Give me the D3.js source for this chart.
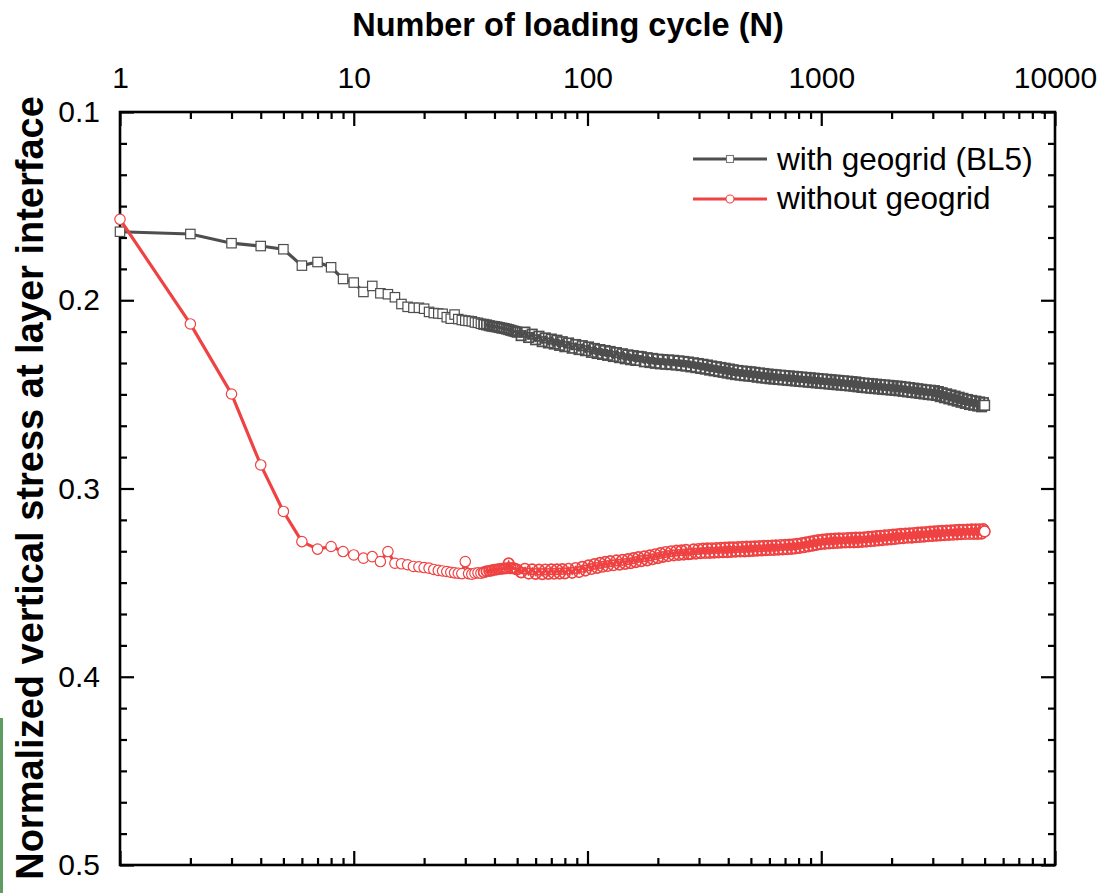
<!DOCTYPE html>
<html>
<head>
<meta charset="utf-8">
<script src="https://cdn.jsdelivr.net/npm/d3@7/dist/d3.min.js"></script>
<style>
  html, body { margin: 0; padding: 0; background: #fff; }
  svg { display: block; }
  text { font-family: "Liberation Sans", Arial, sans-serif; fill: #000; }
</style>
</head>
<body>
<svg id="chart" width="1102" height="893"></svg>
<script>
// ---------------- DATA ----------------
const xTitle = "Number of loading cycle (N)";
const yTitle = "Normalized vertical stress at layer interface";
const seriesNames = ["with geogrid (BL5)", "without geogrid"];

const xMajorTicks = [1, 10, 100, 1000, 10000];
const xTickLabels = ["1", "10", "100", "1000", "10000"];
const yMajorTicks = [0.1, 0.2, 0.3, 0.4, 0.5];
const yTickLabels = ["0.1", "0.2", "0.3", "0.4", "0.5"];

// loading cycles at which both series were recorded
const cycles = [
  1,2,3,4,5,6,7,8,9,10,
  11,12,13,14,15,16,17,18,19,20,
  21,22,23,24,25,26,27,28,29,30,
  31,32,33,34,35,36,37,38,39,40,
  41,42,43,44,45,46,47,48,49,50,
  52,54,56,58,60,62,64,66,68,70,72,74,76,78,80,
  83,86,89,92,95,98,101,104,107,110,113,116,119,122,125,
  129,133,137,141,145,149,153,157,161,165,
  170,175,180,185,190,195,200,205,210,
  216,222,228,234,240,246,252,258,264,270,
  277,284,291,298,305,312,319,326,333,340,
  348,356,364,372,380,388,396,404,412,420,
  430,440,450,460,470,480,490,500,510,520,
  532,544,556,568,580,592,604,616,628,640,
  655,670,685,700,715,730,745,760,775,790,
  808,826,844,862,880,898,916,934,952,970,
  992,1014,1036,1058,1080,1102,1124,1146,1168,1190,
  1217,1244,1271,1298,1325,1352,1379,1406,1433,1460,
  1493,1526,1559,1592,1625,1658,1691,1724,1757,1790,
  1830,1870,1910,1950,1990,2030,2070,2110,2150,2190,
  2240,2290,2340,2390,2440,2490,2540,2590,2640,2690,
  2750,2810,2870,2930,2990,3050,3110,3170,3230,3290,
  3365,3440,3515,3590,3665,3740,3815,3890,3965,4040,
  4130,4220,4310,4400,4490,4580,4670,4760,4850,4940,5000
];

const withGeogrid = [
  0.1636,0.1648,0.1697,0.1712,0.1729,0.1816,0.1797,0.1825,0.1887,0.1906,
  0.1956,0.1924,0.1963,0.1968,0.1984,0.2020,0.2035,0.2040,0.2040,0.2045,
  0.2062,0.2068,0.2070,0.2072,0.2090,0.2098,0.2076,0.2100,0.2105,0.2108,
  0.2110,0.2112,0.2118,0.2120,0.2125,0.2128,0.2131,0.2135,0.2138,0.2140,
  0.2142,0.2145,0.2148,0.2150,0.2153,0.2156,0.2160,0.2163,0.2166,0.2170,
  0.2188,0.2169,0.2198,0.2180,0.2210,0.2191,0.2220,0.2200,0.2227,0.2206,0.2233,0.2212,0.2240,0.2220,0.2247,
  0.2227,0.2255,0.2235,0.2262,0.2241,0.2268,0.2248,0.2277,0.2256,0.2283,0.2262,0.2288,0.2267,0.2293,0.2272,
  0.2299,0.2278,0.2305,0.2284,0.2311,0.2290,0.2316,0.2294,0.2320,0.2298,
  0.2300,0.2327,0.2305,0.2331,0.2309,0.2335,0.2313,0.2338,0.2315,
  0.2340,0.2317,0.2342,0.2319,0.2344,0.2322,0.2347,0.2325,0.2350,0.2328,
  0.2354,0.2332,0.2358,0.2336,0.2362,0.2340,0.2366,0.2344,0.2371,0.2349,
  0.2375,0.2353,0.2379,0.2357,0.2383,0.2361,0.2387,0.2365,0.2391,0.2369,
  0.2395,0.2373,0.2398,0.2376,0.2401,0.2378,0.2403,0.2380,0.2405,0.2383,
  0.2409,0.2386,0.2412,0.2389,0.2414,0.2392,0.2417,0.2394,0.2419,0.2396,
  0.2421,0.2398,0.2423,0.2400,0.2425,0.2402,0.2427,0.2404,0.2429,0.2406,
  0.2431,0.2408,0.2433,0.2410,0.2435,0.2412,0.2437,0.2414,0.2439,0.2416,
  0.2441,0.2418,0.2443,0.2420,0.2445,0.2422,0.2447,0.2424,0.2449,0.2426,
  0.2451,0.2428,0.2453,0.2430,0.2455,0.2432,0.2457,0.2434,0.2460,0.2438,
  0.2463,0.2440,0.2465,0.2442,0.2467,0.2444,0.2469,0.2446,0.2471,0.2448,
  0.2473,0.2450,0.2475,0.2452,0.2477,0.2454,0.2479,0.2456,0.2481,0.2458,
  0.2484,0.2461,0.2487,0.2464,0.2490,0.2467,0.2492,0.2470,0.2495,0.2473,
  0.2498,0.2476,0.2501,0.2478,0.2503,0.2480,0.2506,0.2485,0.2512,0.2491,
  0.2518,0.2497,0.2524,0.2503,0.2530,0.2509,0.2536,0.2515,0.2542,0.2521,
  0.2548,0.2527,0.2554,0.2532,0.2558,0.2536,0.2562,0.2540,0.2566,0.2544,0.2558
];

const withoutGeogrid = [
  0.1570,0.2126,0.2498,0.2875,0.3122,0.3282,0.3322,0.3308,0.3335,0.3353,
  0.3370,0.3362,0.3388,0.3335,0.3397,0.3400,0.3405,0.3414,0.3416,0.3420,
  0.3423,0.3430,0.3435,0.3438,0.3441,0.3445,0.3448,0.3450,0.3452,0.3388,
  0.3452,0.3455,0.3450,0.3448,0.3450,0.3445,0.3440,0.3438,0.3435,0.3432,
  0.3430,0.3428,0.3426,0.3425,0.3424,0.3397,0.3424,0.3423,0.3426,0.3430,
  0.3446,0.3426,0.3452,0.3429,0.3454,0.3431,0.3455,0.3430,0.3454,0.3429,0.3453,0.3429,0.3452,0.3428,0.3451,
  0.3426,0.3448,0.3422,0.3444,0.3416,0.3436,0.3408,0.3428,0.3401,0.3422,0.3395,0.3416,0.3390,0.3412,0.3386,
  0.3408,0.3382,0.3405,0.3379,0.3401,0.3375,0.3397,0.3370,0.3391,0.3364,
  0.3386,0.3360,0.3382,0.3355,0.3376,0.3349,0.3370,0.3343,0.3364,
  0.3337,0.3359,0.3333,0.3355,0.3330,0.3353,0.3328,0.3351,0.3326,0.3349,
  0.3348,0.3323,0.3346,0.3321,0.3344,0.3319,0.3343,0.3318,0.3342,0.3317,
  0.3341,0.3316,0.3340,0.3315,0.3339,0.3314,0.3338,0.3313,0.3337,0.3312,
  0.3336,0.3311,0.3335,0.3310,0.3334,0.3309,0.3333,0.3308,0.3332,0.3307,
  0.3330,0.3306,0.3329,0.3305,0.3328,0.3304,0.3327,0.3303,0.3326,0.3302,
  0.3325,0.3300,0.3324,0.3299,0.3322,0.3298,0.3321,0.3296,0.3319,0.3294,
  0.3316,0.3290,0.3312,0.3286,0.3308,0.3282,0.3304,0.3278,0.3300,0.3274,
  0.3296,0.3271,0.3294,0.3269,0.3292,0.3267,0.3290,0.3266,0.3289,0.3265,
  0.3288,0.3264,0.3287,0.3263,0.3286,0.3262,0.3286,0.3261,0.3285,0.3261,
  0.3284,0.3259,0.3282,0.3257,0.3280,0.3255,0.3278,0.3253,0.3276,0.3251,
  0.3274,0.3249,0.3272,0.3247,0.3270,0.3245,0.3268,0.3243,0.3266,0.3241,
  0.3264,0.3239,0.3262,0.3238,0.3261,0.3236,0.3259,0.3234,0.3258,0.3233,
  0.3256,0.3231,0.3254,0.3229,0.3252,0.3228,0.3251,0.3226,0.3250,0.3225,
  0.3248,0.3223,0.3247,0.3222,0.3246,0.3221,0.3244,0.3220,0.3243,0.3219,
  0.3242,0.3218,0.3242,0.3217,0.3241,0.3217,0.3241,0.3217,0.3240,0.3216,0.3228
];

// ---------------- CHART ----------------
const GRAY = "#4e4e4e";
const RED = "#ef4242";
const L = 120, R = 1055, T = 112, B = 865;
// beyond this cycle count the recorded symbols overlap so densely that
// their white interiors no longer show (the curve reads as a solid band)
const DENSE_FROM = 36;

const svg = d3.select("#chart");
const x = d3.scaleLog().domain([1, 10000]).range([L, R]);
const y = d3.scaleLinear().domain([0.1, 0.5]).range([T, B]);

// minor ticks
const xMinor = [];
for (let d = 1; d < 10000; d *= 10) for (let k = 2; k <= 9; k++) xMinor.push(d * k);
const yMinor = [];
for (let i = 0; i < yMajorTicks.length - 1; i++)
  for (let k = 1; k <= 5; k++) yMinor.push(yMajorTicks[i] + k * 0.1 / 6);

// small green strip at bottom-left edge (cropping artifact in original)
svg.append("rect").attr("x", 0).attr("y", 718).attr("width", 3).attr("height", 175).attr("fill", "#5f9c64");

function styleAxis(g) {
  g.select(".domain").remove();
  g.selectAll(".tick line").attr("stroke", "#000").attr("stroke-width", 2.2);
  g.selectAll(".tick text").style("font-family", '"Liberation Sans", Arial, sans-serif')
    .style("font-size", "30px").attr("fill", "#000");
}

// top axis
svg.append("g").attr("transform", `translate(0,${T})`)
  .call(d3.axisTop(x).tickValues(xMajorTicks).tickSize(-14).tickPadding(24)
    .tickFormat((d, i) => xTickLabels[i]))
  .call(styleAxis);
svg.append("g").attr("transform", `translate(0,${T})`)
  .call(d3.axisTop(x).tickValues(xMinor).tickSize(-7).tickFormat(""))
  .call(styleAxis);
// bottom axis
svg.append("g").attr("transform", `translate(0,${B})`)
  .call(d3.axisBottom(x).tickValues(xMajorTicks).tickSize(-14).tickFormat(""))
  .call(styleAxis);
svg.append("g").attr("transform", `translate(0,${B})`)
  .call(d3.axisBottom(x).tickValues(xMinor).tickSize(-7).tickFormat(""))
  .call(styleAxis);
// left axis
svg.append("g").attr("transform", `translate(${L},0)`)
  .call(d3.axisLeft(y).tickValues(yMajorTicks).tickSize(-14).tickPadding(20)
    .tickFormat((d, i) => yTickLabels[i]))
  .call(styleAxis);
svg.append("g").attr("transform", `translate(${L},0)`)
  .call(d3.axisLeft(y).tickValues(yMinor).tickSize(-7).tickFormat(""))
  .call(styleAxis);
// right axis
svg.append("g").attr("transform", `translate(${R},0)`)
  .call(d3.axisRight(y).tickValues(yMajorTicks).tickSize(-14).tickFormat(""))
  .call(styleAxis);
svg.append("g").attr("transform", `translate(${R},0)`)
  .call(d3.axisRight(y).tickValues(yMinor).tickSize(-7).tickFormat(""))
  .call(styleAxis);

// frame
svg.append("rect").attr("x", L).attr("y", T).attr("width", R - L).attr("height", B - T)
  .attr("fill", "none").attr("stroke", "#000").attr("stroke-width", 2.6);

// titles
svg.append("text").attr("x", 568).attr("y", 36).attr("text-anchor", "middle")
  .style("font-size", "32.5px").style("font-weight", "bold").text(xTitle);
svg.append("text").attr("transform", "translate(43,488) rotate(-90)")
  .attr("text-anchor", "middle").style("font-size", "38px").style("font-weight", "bold")
  .text(yTitle);

// series
const gData = cycles.map((n, i) => ({ n, v: withGeogrid[i] }));
const rData = cycles.map((n, i) => ({ n, v: withoutGeogrid[i] }));
const line = d3.line().x(d => x(d.n)).y(d => y(d.v));

const sq = 9.4, cr = 5.2;
const symFill = d => (d.n >= DENSE_FROM ? "none" : "#fff");
const symStroke = d => (d.n >= DENSE_FROM ? 1.7 : 1.2);

svg.append("path").datum(gData).attr("d", line)
  .attr("fill", "none").attr("stroke", GRAY).attr("stroke-width", 3.2);
svg.append("g").selectAll("rect").data(gData).join("rect")
  .attr("x", d => x(d.n) - sq / 2).attr("y", d => y(d.v) - sq / 2)
  .attr("width", sq).attr("height", sq)
  .attr("fill", symFill).attr("stroke", GRAY).attr("stroke-width", symStroke);

svg.append("path").datum(rData).attr("d", line)
  .attr("fill", "none").attr("stroke", RED).attr("stroke-width", 3.2);
svg.append("g").selectAll("circle").data(rData).join("circle")
  .attr("cx", d => x(d.n)).attr("cy", d => y(d.v)).attr("r", cr)
  .attr("fill", symFill).attr("stroke", RED).attr("stroke-width", symStroke);

// last symbol of each curve drawn hollow-white on top (as in the original)
[[gData, GRAY, "sq"], [rData, RED, "ci"]].forEach(([data, color, kind]) => {
  const d = data[data.length - 1];
  if (kind === "sq") {
    svg.append("rect").attr("x", x(d.n) - sq / 2).attr("y", y(d.v) - sq / 2)
      .attr("width", sq).attr("height", sq).attr("fill", "#fff").attr("stroke", color).attr("stroke-width", 1.2);
  } else {
    svg.append("circle").attr("cx", x(d.n)).attr("cy", y(d.v)).attr("r", cr)
      .attr("fill", "#fff").attr("stroke", color).attr("stroke-width", 1.2);
  }
});

// legend
const legend = [
  { name: seriesNames[0], color: GRAY, shape: "square", cy: 159, ty: 170 },
  { name: seriesNames[1], color: RED, shape: "circle", cy: 199, ty: 209 }
];
legend.forEach(it => {
  svg.append("line").attr("x1", 693).attr("x2", 767).attr("y1", it.cy).attr("y2", it.cy)
    .attr("stroke", it.color).attr("stroke-width", 3.2);
  if (it.shape === "square") {
    svg.append("rect").attr("x", 730 - 3.5).attr("y", it.cy - 3.5).attr("width", 7).attr("height", 7)
      .attr("fill", "#fff").attr("stroke", "#777").attr("stroke-width", 1.1);
  } else {
    svg.append("circle").attr("cx", 730).attr("cy", it.cy).attr("r", 4)
      .attr("fill", "#fff").attr("stroke", it.color).attr("stroke-width", 1.1);
  }
  svg.append("text").attr("x", 777).attr("y", it.ty).style("font-size", "31.5px").text(it.name);
});
</script>
</body>
</html>
